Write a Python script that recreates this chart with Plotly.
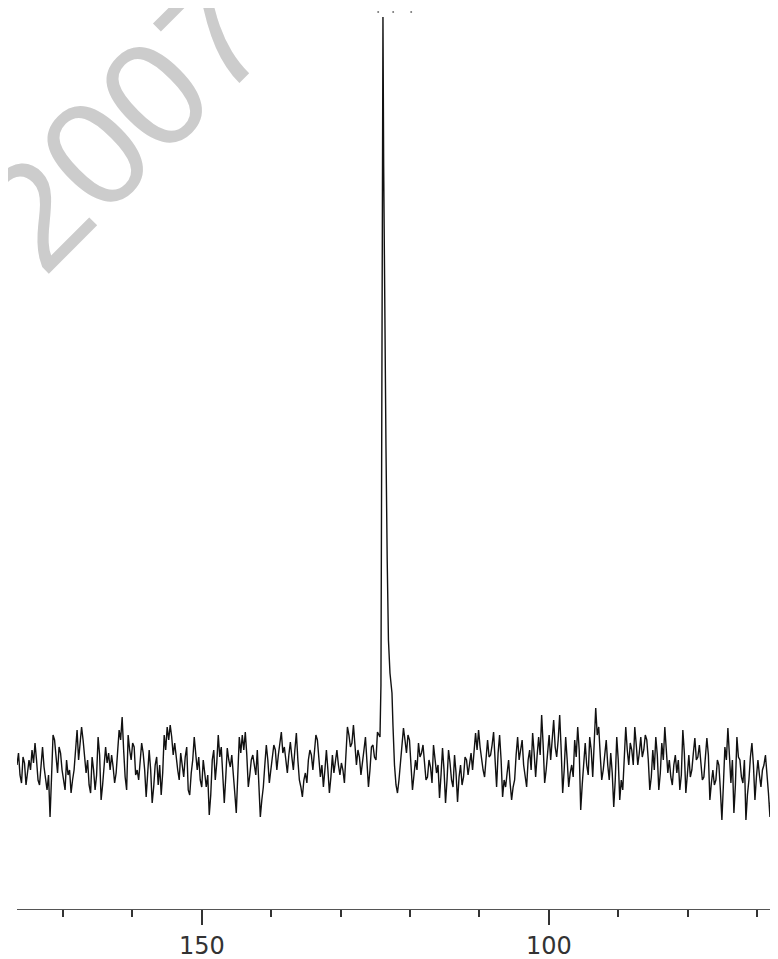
import plotly.graph_objects as go

# ---- data (ppm axis, intensity in arbitrary units, baseline = 0) ----
STEP_PPM = 0.21645
LEFT_START_PPM = 176.64
RIGHT_START_PPM = 121.81

noise_left = [
    0, 12, -10, -18, 8, 2, -20, -8, 5, -5, 15, 2, 22, 5, -15, -20, 5, 18, -2, -12,
    -25, -10, -52, -12, 30, 25, 10, -8, 18, 12, -5, -15, -25, 5, -10, -5, -28, -15, -5, 15,
    35, 5, 20, 38, 25, 10, -8, 5, -20, -28, 8, -5, -25, -10, 28, 10, -35, -20, 5, 18,
    2, 12, -5, 10, -2, -18, -8, 10, 35, 25, 48, 15, -12, -25, 30, 15, 5, 22, 18, -10,
    -5, -15, 8, 22, 12, -5, -32, -10, 15, -5, -38, -22, 0, 8, -20, 0, -30, -8, 30, 15,
    38, 25, 40, 28, 10, 22, 5, -5, -15, 12, 0, -12, 8, 18, -25, -30, -8, 5, 28, 10,
    -5, 8, -15, -22, 5, -8, -22, -10, -50, -30, 5, 15, -15, 2, 30, 8, 18, -10, -38, -12,
    17, 5, -2, 10, -15, -28, -48, -10, 28, 12, 30, 15, 33, 10, -22, -10, 5, 10, -2, -10,
    15, -20, -52, -35, -22, 0, 20, 5, -18, -5, 5, 20, 15, -5, 10, 22, 33, 12, 18, 5,
    -8, 10, 23, 8, -5, 15, 32, 5, -15, -22, -32, -15, -8, -18, 5, 15, 10, -5, 18, 30,
    25, 5, -12, 0, -22, -5, 15, -5, -28, -12, 10, -8, 7, 15, 0, -10, 2, -5, -18, 10,
    38, 30, 18, 22, 40, 20, 0, 15, 8, -10, 0, 15, 28, 5, -22, -5, 18, 20, 8, 5,
    33]

peak_ppm = [124.33, 124.19, 124.09, 124.00, 123.90, 123.80, 123.68, 123.47,
            123.29, 123.11, 122.89, 122.75, 122.60, 122.46, 122.24, 122.02]
peak_int = [28, 80, 300, 550, 748, 600, 480, 320,
            205, 125, 92, 84, 72, 40, 0, -20]

noise_right = [
    -28, -15, 2, 20, 37, 25, 12, 30, 25, 0, -25, -10, 5, -5, 22, 8, 12, 20, -2, -15,
    -12, 5, -2, -18, 20, 8, -8, 0, -33, -10, 17, -5, -38, -15, 15, 2, -15, -22, 10, -8,
    -37, -12, 0, -20, -12, 8, 5, -10, 0, 12, -5, 10, 32, 15, 35, 18, 5, -5, -12, 10,
    25, 8, 10, 20, 33, 5, -22, 12, 30, 5, -32, -15, -22, -8, 5, -18, -35, -22, -15, 10,
    28, 5, 15, 25, 0, -10, -22, 5, 15, -5, 32, 12, -12, 10, 28, 10, 50, 20, -18, -5,
    15, 30, 5, 22, 45, 18, 8, 25, 50, 15, -28, -5, 28, 5, -22, -8, 0, -12, 25, 8,
    38, 15, -45, -20, 8, 22, 0, -10, 28, 15, -12, 20, 57, 30, 38, 10, -15, -5, 8, 25,
    0, -15, 12, -8, -42, -15, 28, 5, -35, -15, -25, 10, 38, 15, 0, 22, 15, 0, 38, 20,
    0, 12, 28, 8, 15, 30, 25, 5, -25, -12, 15, -5, 28, 10, -25, -8, 22, 5, 38, 15,
    -8, 5, -12, -20, 0, 10, -8, 5, -25, -10, 35, 12, -28, -10, 10, -12, -5, 12, 27, 5,
    8, 20, 0, -15, -12, 8, 27, 10, -35, -18, -5, -20, -15, 5, 0, -25, -55, -20, 18, 5,
    37, 10, -18, 5, -48, -20, 28, 8, 5, -12, -18, 5, -55, -30, -15, 8, 22, 0, -35, -12,
    5, -10, -22, -5, 0, 10, -15, -28, -52, -20, 12, -5, -15, 10, 28]

major_ticks = [150, 100]
major_labels = ["150", "100"]
minor_ticks = [170, 160, 140, 130, 120, 110, 90, 80, 70]
top_marks_ppm = [124.59, 122.43, 119.83]
top_marks_int = [753, 753, 753]

X_RANGE = [176.64, 66.97]
Y_RANGE = [-144, 757]

ppm_left = [LEFT_START_PPM - STEP_PPM * i for i in range(len(noise_left))]
ppm_right = [RIGHT_START_PPM - STEP_PPM * i for i in range(len(noise_right))]

x_all = ppm_left + peak_ppm + ppm_right
y_all = noise_left + peak_int + noise_right

fig = go.Figure()
fig.add_trace(go.Scatter(x=x_all, y=y_all, mode="lines",
                         line=dict(color="#111111", width=1.4),
                         hoverinfo="skip", showlegend=False))
fig.add_trace(go.Scatter(x=top_marks_ppm, y=top_marks_int, mode="markers",
                         marker=dict(color="#777777", size=2),
                         hoverinfo="skip", showlegend=False))

fig.add_annotation(text="2007", xref="paper", yref="paper",
                   x=0.142, y=0.871, xanchor="center", yanchor="middle",
                   showarrow=False, textangle=-45,
                   font=dict(family="Liberation Sans", size=150, color="#cccccc"))

fig.update_layout(
    width=778, height=959,
    margin=dict(l=9, r=8, t=0, b=58),
    paper_bgcolor="white", plot_bgcolor="white",
    xaxis=dict(range=X_RANGE, showgrid=False, zeroline=False,
               showline=True, linecolor="#555555", linewidth=1,
               tickmode="array", tickvals=major_ticks, ticktext=major_labels,
               ticks="outside", ticklen=15, tickwidth=1.5, tickcolor="#333333",
               tickfont=dict(family="DejaVu Sans", size=24, color="#333333"),
               minor=dict(tickmode="array", tickvals=minor_ticks, ticks="outside",
                          ticklen=7, tickwidth=1.5, tickcolor="#333333",
                          showgrid=False)),
    yaxis=dict(range=Y_RANGE, visible=False, showgrid=False, zeroline=False),
)

fig.write_html("out.html")
